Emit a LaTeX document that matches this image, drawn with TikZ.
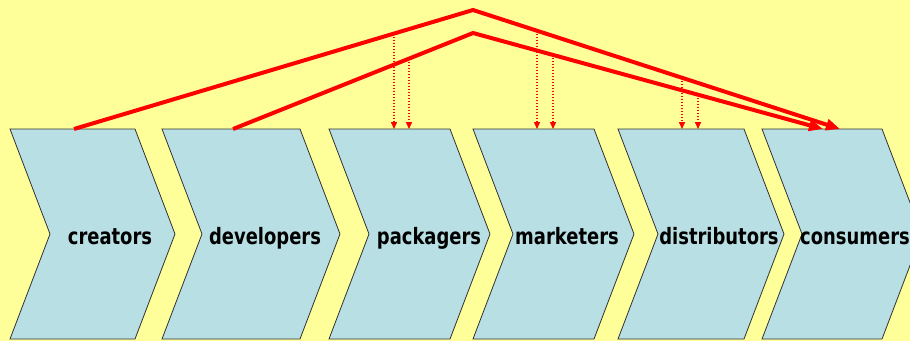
\documentclass[tikz,border=0pt]{standalone}
\usepackage{fontspec}
\setmainfont{DejaVu Sans}
\usetikzlibrary{arrows.meta}
\definecolor{paper}{HTML}{FFFF99}
\definecolor{stagefill}{HTML}{B8DFE3}
\newcommand{\stagename}[1]{\scalebox{0.97}[1.22]{#1}}

\begin{document}
\begin{tikzpicture}
  [x=1pt,y=-1pt,
   Stage/.style={draw=black!80,fill=stagefill,line width=0.8pt,line join=miter},
   Label/.style={font=\bfseries\fontsize{18.5}{20}\selectfont,inner sep=0pt,anchor=base},
   Flow/.style={draw=red,line width=4pt,-{Triangle[length=14pt,width=11pt]}},
   Feed/.style={draw=red,line width=1.5pt,dash pattern=on 1.5pt off 1.5pt,-{Triangle[length=7pt,width=6pt]}}];
  \fill[paper] (0,0) rectangle (910,341);
  \useasboundingbox (0,0) rectangle (910,341);
  \clip (0,0) rectangle (910,341);

  % the six stages
  \draw[Stage] (10,129)--(135,129)--(175,234)--(135,339)--(10,339)--(50,234)--cycle;
  \draw[Stage] (162,129)--(300,129)--(340,234)--(300,339)--(162,339)--(202,234)--cycle;
  \draw[Stage] (329,129)--(450,129)--(490,234)--(450,339)--(329,339)--(369,234)--cycle;
  \draw[Stage] (473,129)--(594,129)--(634,234)--(594,339)--(473,339)--(513,234)--cycle;
  \draw[Stage] (618,129)--(744,129)--(784,234)--(744,339)--(618,339)--(658,234)--cycle;
  \draw[Stage] (762,129)--(882,129)--(922,234)--(882,339)--(762,339)--(802,234)--cycle;

  \node[Label] (creators) at (110,244) {\stagename{creators}};
  \node[Label] (developers) at (265,244) {\stagename{developers}};
  \node[Label] (packagers) at (429,244) {\stagename{packagers}};
  \node[Label] (marketers) at (567,244) {\stagename{marketers}};
  \node[Label] (distributors) at (719,244) {\stagename{distributors}};
  \node[Label] (consumers) at (855,244) {\stagename{consumers}};

  \coordinate (creatorsTop) at (74,129);
  \coordinate (developersTop) at (233,129);
  \coordinate (packagersTop) at (400,129);
  \coordinate (marketersTop) at (545,129);
  \coordinate (distributorsTop) at (690,129);
  \coordinate (consumersTopA) at (840,129);
  \coordinate (consumersTopB) at (823,129);
  \coordinate (apexA) at (473,10);
  \coordinate (apexB) at (473,33);

  % the two long routes
  \draw[Flow] (creatorsTop) -- (apexA) -- (consumersTopA);
  \draw[Flow] (developersTop) -- (apexB) -- (consumersTopB);

  % feeds dropping off the routes
  \coordinate (feedA1) at (394,33.6);
  \coordinate (feedB1) at (409,58.6);
  \coordinate (feedA2) at (537,30.8);
  \coordinate (feedB2) at (553,54.9);
  \coordinate (feedA3) at (682,77.8);
  \coordinate (feedB3) at (698,94.7);

  \draw[Feed] (feedA1) -- (feedA1 |- packagersTop);
  \draw[Feed] (feedB1) -- (feedB1 |- packagersTop);
  \draw[Feed] (feedA2) -- (feedA2 |- marketersTop);
  \draw[Feed] (feedB2) -- (feedB2 |- marketersTop);
  \draw[Feed] (feedA3) -- (feedA3 |- distributorsTop);
  \draw[Feed] (feedB3) -- (feedB3 |- distributorsTop);
\end{tikzpicture}
\end{document}
